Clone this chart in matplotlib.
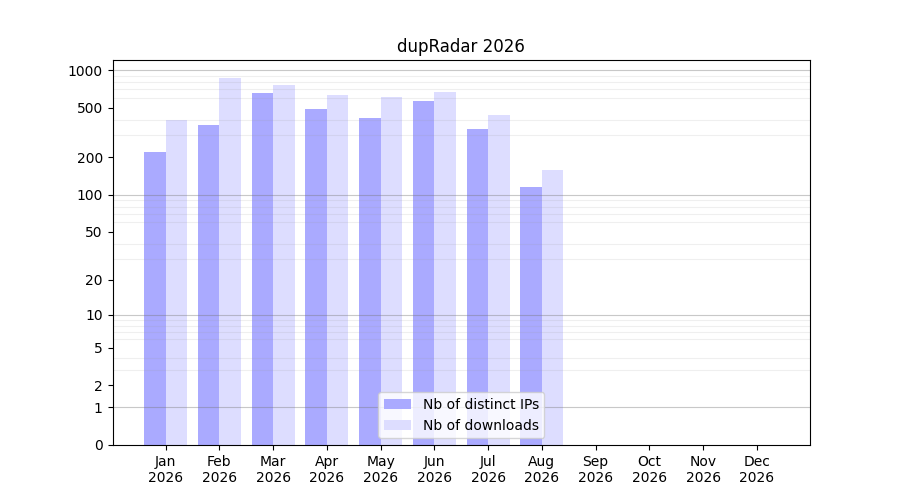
import numpy as np
from matplotlib import pyplot as plt

months = ['Jan', 'Feb', 'Mar', 'Apr', 'May', 'Jun', 'Jul', 'Aug', 'Sep', 'Oct', 'Nov', 'Dec']
year = '2026'
distinct_ips = [220, 362, 654, 487, 412, 564, 336, 115, 0, 0, 0, 0]
downloads = [397, 860, 758, 630, 607, 666, 435, 157, 0, 0, 0, 0]

y_ticks = [0, 1, 2, 5, 10, 20, 50, 100, 200, 500, 1000]
minor_ticks = [m * d for d in (1, 10, 100) for m in range(2, 10)]
decades = [1, 10, 100, 1000]


def fwd(v):
    return np.log10(np.clip(1 + np.asarray(v, dtype=float), 1e-9, None))


def inv(v):
    return 10 ** np.asarray(v, dtype=float) - 1


fig, ax = plt.subplots(figsize=(9, 5), dpi=100)
ind = np.arange(len(months))
width = 0.4

ax.bar(ind - width / 2, distinct_ips, width, color='#aaaaff', label='Nb of distinct IPs')
ax.bar(ind + width / 2, downloads, width, color='#ddddff', label='Nb of downloads')

ax.set_yscale('function', functions=(fwd, inv))
ax.set_yticks(y_ticks)
ax.set_yticklabels([str(t) for t in y_ticks])
ax.set_yticks(minor_ticks, minor=True)
ax.tick_params(axis='y', which='minor', length=0)
ax.grid(axis='y', which='minor', color='#999999', alpha=0.15, linewidth=0.8)
for d in decades:
    ax.axhline(d, color='#777777', alpha=0.4, linewidth=0.8)

ax.set_xticks(ind)
ax.set_xticklabels([m + '\n' + year for m in months])
ax.set_title('dupRadar ' + year)
ax.legend(loc='lower center')

plt.savefig('out.png')
